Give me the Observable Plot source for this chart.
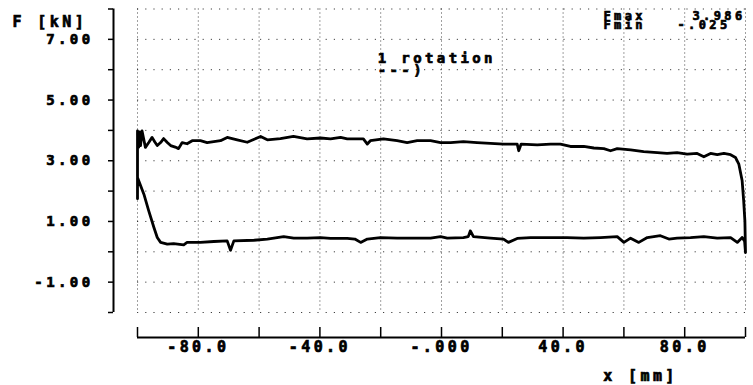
<!DOCTYPE html>
<html>
<head>
<meta charset="utf-8">
<script src="https://cdn.jsdelivr.net/npm/d3@7"></script>
<script src="https://cdn.jsdelivr.net/npm/@observablehq/plot@0.6"></script>
<style>
  html, body { margin: 0; padding: 0; background: #fff; }
  #chart svg text { letter-spacing: 3.4px; font-weight: bold; stroke: #000; stroke-width: 0.7px; paint-order: stroke; }
  #chart svg g[aria-label="readout"] text { letter-spacing: 4px; stroke-width: 0.9px; }
</style>
</head>
<body>
<div id="chart"></div>
<script>
// Axis extents and ticks (x in mm, F in kN)
const xDomain = [-100, 100];
const yDomain = [-2, 8];
const xTicks = [-100, -80, -60, -40, -20, 0, 20, 40, 60, 80, 100];
const xLabelTicks = [-80, -40, 0, 40, 80];
const xTickLabels = ["-80.0", "-40.0", "-.000", "40.0", "80.0"];
const yTicks = [-2, -1, 0, 1, 2, 3, 4, 5, 6, 7, 8];
const yLabelTicks = [-1, 1, 3, 5, 7];
const yTickLabels = ["-1.00", "1.00", "3.00", "5.00", "7.00"];

// Forward stroke: force while the slide moves from -100 to +100 mm
const forwardX = [-100, -100, -99.6, -99.3, -99.0, -98.5, -97.4, -96.3, -95.2, -94.3, -93.5, -92.4, -91.4, -90.2,
  -89.1, -87.6, -86.5, -85.3, -83.7, -82, -79.3, -77.1, -72.7, -70.5, -67.2, -63.9, -61.8, -59.5, -57.3, -53,
  -48.7, -44.2, -39.8, -36.5, -33.2, -31, -25.7, -24.4, -23.4, -19.1, -14.6, -11.3, -8, -3.6, -0.3, 3, 7.2,
  11.7, 16.1, 20.4, 24.9, 25.4, 26.2, 31.5, 35.9, 39.1, 42.4, 46.8, 50.1, 53.4, 55.6, 57.8, 62.2, 66.5, 71,
  74.2, 77.5, 80.8, 84.1, 86.3, 88.5, 90.7, 92.9, 95.1, 96.7, 97.8, 98.9, 99.4, 99.8, 100];
const forwardF = [1.75, 3.986, 3.45, 3.95, 3.5, 3.98, 3.44, 3.6, 3.77, 3.62, 3.5, 3.6, 3.73, 3.6,
  3.5, 3.45, 3.4, 3.6, 3.56, 3.66, 3.66, 3.6, 3.66, 3.77, 3.69, 3.61, 3.7, 3.8, 3.69, 3.73,
  3.8, 3.72, 3.75, 3.72, 3.77, 3.72, 3.72, 3.55, 3.66, 3.72, 3.66, 3.6, 3.66, 3.66, 3.6, 3.6, 3.63,
  3.6, 3.57, 3.55, 3.55, 3.33, 3.55, 3.52, 3.55, 3.55, 3.47, 3.47, 3.42, 3.4, 3.33, 3.4, 3.36, 3.3, 3.27,
  3.24, 3.27, 3.22, 3.24, 3.13, 3.24, 3.2, 3.24, 3.2, 3.11, 2.89, 2.34, 1.68, 1.02, -0.025];

// Return stroke: force while the slide moves back from +100 to -100 mm
const returnX = [99.7, 98.9, 97.3, 95.1, 90.7, 86.3, 81.9, 77.5, 74.8, 72, 67.7, 64.9, 62.2, 60, 57.8, 52.3,
  46.8, 41.3, 35.9, 29.3, 24.9, 22, 20.4, 16.1, 10.5, 9.5, 8.8, 7.2, 1.9, -0.3, -3.6, -9.2, -14.6, -20.1,
  -24.4, -26.6, -28.5, -31, -36.5, -39.8, -44.2, -48.6, -51.9, -57.3, -61.7, -68.3, -69.4, -70.5, -74.9,
  -79.3, -83.7, -84.8, -88.1, -90.2, -92.4, -93.5, -94.6, -96.3, -97.9, -100];
const returnF = [0.35, 0.47, 0.31, 0.47, 0.45, 0.5, 0.47, 0.45, 0.42, 0.53, 0.47, 0.31, 0.45, 0.31, 0.5, 0.47,
  0.45, 0.47, 0.47, 0.47, 0.44, 0.31, 0.42, 0.45, 0.5, 0.69, 0.5, 0.47, 0.45, 0.5, 0.45, 0.45, 0.45, 0.47,
  0.42, 0.31, 0.42, 0.44, 0.44, 0.47, 0.45, 0.45, 0.5, 0.42, 0.38, 0.36, 0.05, 0.36, 0.34,
  0.31, 0.31, 0.23, 0.27, 0.25, 0.31, 0.47, 0.8, 1.35, 1.9, 2.45];

// Summary values printed in the corner
const extremaNames = ["Fmax", "Fmin"];
const extremaValues = ["3.986", "-.025"];
const rotationNote = ["1 rotation", "---)"];
const rotationAt = { x: -21, F: [6.38, 5.98] };

const loop = [
  ...forwardX.map((x, i) => ({x, F: forwardF[i]})),
  ...returnX.map((x, i) => ({x, F: returnF[i]}))
];

const ink = "#000";
const mono = "DejaVu Sans Mono";
const readout = {frameAnchor: "top-right", textAnchor: "start", lineAnchor: "bottom",
  fontSize: 12, fontWeight: "bold", fill: ink, ariaLabel: "readout"};

const chart = Plot.plot({
  width: 753,
  height: 385,
  marginLeft: 137,
  marginRight: 8,
  marginTop: 8.5,
  marginBottom: 73,
  style: {fontFamily: mono, fontWeight: "bold", fontSize: "15px", color: ink, background: "#fff"},
  x: {domain: xDomain},
  y: {domain: yDomain},
  marks: [
    // dotted grid
    Plot.gridX(xTicks, {stroke: ink, strokeOpacity: 0.75, strokeDasharray: "1,3"}),
    Plot.gridY(yTicks, {stroke: ink, strokeOpacity: 0.75, strokeDasharray: "1.2,7"}),

    // detached y axis
    Plot.ruleX([xDomain[0]], {y1: yDomain[0], y2: yDomain[1], dx: -24, stroke: ink, strokeWidth: 2}),
    Plot.axisY(yTicks, {anchor: "left", dx: -24, tickSize: 5, tickFormat: () => "", label: null, stroke: ink, strokeWidth: 1.5}),
    Plot.axisY(yLabelTicks, {anchor: "left", dx: -44, tickSize: 0, tickPadding: 0, label: null,
      tickFormat: d => yTickLabels[yLabelTicks.indexOf(d)], fontSize: 14, fontWeight: "bold", fill: ink}),

    // detached x axis with upward ticks
    Plot.ruleY([yDomain[0]], {x1: xDomain[0], x2: xDomain[1], dy: 25, stroke: ink, strokeWidth: 2}),
    Plot.axisX(xTicks, {anchor: "bottom", dy: 25, tickSize: -10, tickFormat: () => "", label: null, stroke: ink, strokeWidth: 1.5}),
    Plot.axisX(xLabelTicks, {anchor: "bottom", dy: 29, tickSize: 0, tickPadding: 0, label: null,
      tickFormat: d => xTickLabels[xLabelTicks.indexOf(d)], fontSize: 15, fontWeight: "bold", fill: ink}),

    // axis titles
    Plot.text(["F [kN]"], {frameAnchor: "top-left", dx: -125, dy: 17.5, textAnchor: "start", lineAnchor: "bottom",
      fontSize: 15, fontWeight: "bold", fill: ink}),
    Plot.text(["x [mm]"], {frameAnchor: "bottom", dx: 199, dy: 68, textAnchor: "middle", lineAnchor: "bottom",
      fontSize: 15, fontWeight: "bold", fill: ink}),

    // force loop
    Plot.line(loop, {x: "x", y: "F", stroke: ink, strokeWidth: 2.8, strokeLinejoin: "round", curve: "linear"}),

    // rotation note
    Plot.text(rotationNote, {x: () => rotationAt.x, y: (d, i) => rotationAt.F[i], text: d => d,
      textAnchor: "start", fontSize: 14, fontWeight: "bold", fill: ink}),

    // extrema readout
    Plot.text([extremaNames[0]], {...readout, dx: -142, dy: 11}),
    Plot.text([extremaNames[1]], {...readout, dx: -142, dy: 20}),
    Plot.text([extremaValues[0]], {...readout, dx: -53, dy: 11}),
    Plot.text([extremaValues[1]], {...readout, dx: -68, dy: 20})
  ]
});

document.getElementById("chart").appendChild(chart);
</script>
</body>
</html>
